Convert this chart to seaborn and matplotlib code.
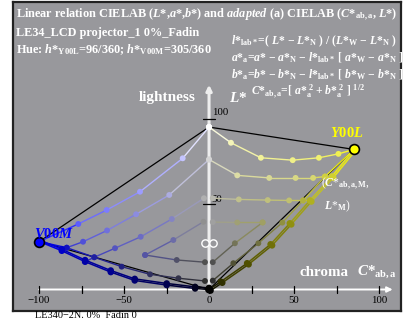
import numpy as np
import pandas as pd
import seaborn as sns
import matplotlib
matplotlib.use("Agg")
import matplotlib.pyplot as plt
from matplotlib import transforms

# ---------------- data (a*_a, L*) ----------------
# yellow side (hue Y00L)
yA_a = [0, 12.9, 30.5, 49.2, 64.6, 76.1, 85.2]
yA_L = [95.2, 86.0, 77.2, 75.8, 77.2, 79.5, 82.1]
yB_a = [0, 16.6, 35.4, 50.9, 61.2, 68.2, 72.2]
yB_L = [76.2, 66.9, 65.4, 65.4, 65.4, 66.2, 66.2]
yC_a = [2.2, 17.5, 34.5, 47.1, 55.3, 59.3]
yC_L = [53.5, 52.8, 52.4, 52.2, 52.2, 52.2]
yD_a = [2.2, 16.6, 31.5]
yD_L = [39.5, 39.3, 39.3]
yE_a = [2.2, 15.2, 31.5]
yE_L = [16.0, 27.1, 39.3]
yF_a = [2.2, 14.3, 29.0, 43.1, 55.3, 68.2, 85.2]
yF_L = [5.2, 15.4, 27.1, 39.2, 52.2, 66.2, 82.1]
yG_a = [0, 6.9, 22.4, 36.2, 47.5, 59.3, 72.2, 85.2]
yG_L = [0, 4.6, 15.4, 26.5, 38.8, 52.2, 66.2, 82.1]

# blue side (hue V00M)
bA_a = [0, -15.5, -40.6, -60.2, -76.9, -99.8]
bA_L = [95.2, 76.9, 57.3, 46.6, 38.4, 28.1]
bB_a = [0, -23.4, -42.9, -60.0, -74.1, -83.7]
bB_L = [76.2, 55.4, 44.1, 34.6, 28.0, 24.5]
bC_a = [-3.0, -21.9, -40.2, -55.3, -67.5, -72.9]
bC_L = [53.5, 41.3, 30.9, 24.2, 18.9, 16.3]
bD_a = [-3.3, -21.0, -37.6]
bD_L = [39.7, 29.0, 20.2]
bE_a = [-2.4, -19.0, -37.6]
bE_L = [16.0, 17.3, 20.2]
bF_a = [-2.4, -18.0, -34.7, -51.4, -67.5, -83.7, -99.8]
bF_L = [5.0, 6.6, 8.9, 13.4, 18.9, 24.5, 28.1]
bG_a = [0, -8.2, -24.9, -43.7, -57.8, -72.9, -86.6, -99.8]
bG_L = [0, 0.6, 2.6, 5.3, 10.2, 16.3, 22.7, 28.1]

# corner points
W_pt = (0, 95.2)
N_pt = (0, 0)
Y00L_pt = (85.2, 82.1)
V00M_pt = (-99.8, 28.1)
LM_a = [-2.4, 2.2]
LM_L = [27.1, 27.1]

x_ticks = [-100, -75, -50, -25, 0, 25, 50, 75, 100]
x_ticklabels = ["\u2212100", "\u221250", "0", "50", "100"]
x_labeled = [-100, -50, 0, 50, 100]

# ---------------- styles ----------------
yA_c = ['#ffffff', '#f4f4b8', '#f2f298', '#f0f088', '#f0f070', '#f0f050', '#ffff00']
yB_c = ['#d4d4d4', '#dcdca4', '#d8d894', '#d8d884', '#d8d870', '#d8d848', '#d8d838']
yC_c = ['#b8b8b0', '#c0c08c', '#c0c07c', '#c0c070', '#c8c848', '#c8c838']
yD_c = ['#a0a0a0', '#a0a074', '#a0a064']
yE_c = ['#505050', '#747458', '#a0a064']
yF_c = ['#303030', '#505034', '#707040', '#909040', '#b0b040', '#d0d040', '#ffff00']
yG_c = ['#000000', '#303000', '#505000', '#707008', '#909010', '#b0b020', '#d0d030', '#ffff00']

bA_c = ['#ffffff', '#c4c4ff', '#9c9cff', '#7c7cff', '#5c5cff', '#0000ff']
bB_c = ['#d4d4d4', '#acace0', '#8c8ce0', '#7070dc', '#5050d8', '#3030d0']
bC_c = ['#b0b0b0', '#8484c4', '#6c6cc4', '#5454c0', '#3c3cb8', '#2020b0']
bD_c = ['#909090', '#6c6ca8', '#5454a4']
bE_c = ['#505050', '#505068', '#5454a4']
bF_c = ['#303030', '#303048', '#303060', '#202080', '#2020a0', '#1010c0', '#0000ff']
bG_c = ['#000000', '#000020', '#000050', '#000070', '#000090', '#0000a8', '#0000c8', '#0000ff']

BG = '#98989c'

sns.set_theme(style="white")
plt.rcParams['font.family'] = ['Liberation Serif', 'DejaVu Serif']
plt.rcParams['mathtext.fontset'] = 'custom'
plt.rcParams['mathtext.rm'] = 'Liberation Serif:bold'
plt.rcParams['mathtext.it'] = 'Liberation Serif:italic:bold'
plt.rcParams['mathtext.bf'] = 'Liberation Serif:bold'

fig = plt.figure(figsize=(4.16, 3.23), dpi=100)
fig.patch.set_facecolor('white')
ax = fig.add_axes([13 / 416, 12 / 323, 388 / 416, 309 / 323])
ax.set_facecolor(BG)
ax.set_xlim(-115.3, 112.9)
ax.set_ylim(-12.6, 168.5)
for s in ax.spines.values():
    s.set_color('#222222')
    s.set_linewidth(1.6)
ax.set_xticks([])
ax.set_yticks([])


def mix(c1, c2):
    r1, g1, b1 = matplotlib.colors.to_rgb(c1)
    r2, g2, b2 = matplotlib.colors.to_rgb(c2)
    return ((r1 + r2) / 2, (g1 + g2) / 2, (b1 + b2) / 2)


def series(a, L, cols, lw=1.0, s=18, trans=None, z=3):
    kw = {}
    if trans is not None:
        kw['transform'] = trans
    for i in range(len(a) - 1):
        sns.lineplot(x=[a[i], a[i + 1]], y=[L[i], L[i + 1]], sort=False,
                     estimator=None, color=mix(cols[i], cols[i + 1]),
                     lw=lw, ax=ax, zorder=z, **kw)
    df = pd.DataFrame({'a': a, 'L': L, 'k': [str(i) for i in range(len(a))]})
    sns.scatterplot(data=df, x='a', y='L', hue='k',
                    palette=dict(zip(df['k'], cols)), legend=False,
                    s=s, edgecolor='none', ax=ax, zorder=z + 1, **kw)


# white axes
ax.annotate('', xy=(108, 0), xytext=(-100, 0),
            arrowprops=dict(arrowstyle='-|>', color='white', lw=1.4,
                            mutation_scale=8, shrinkA=0, shrinkB=0), zorder=1)
ax.annotate('', xy=(0, 120), xytext=(0, -1),
            arrowprops=dict(arrowstyle='-|>', color='#eeeeee', lw=2.2,
                            mutation_scale=8, shrinkA=0, shrinkB=0), zorder=1)
for t in x_ticks:
    ax.plot([t, t], [-2.0, 2.0], color='black', lw=0.9, zorder=2)
for t in [50, 100]:
    ax.plot([-3.5, 3.5], [t, t], color='black', lw=0.9, zorder=2)
for t, lab in zip(x_labeled, x_ticklabels):
    ax.text(t, -6.5, lab, ha='center', va='center', fontsize=7.8, color='black')
ax.text(1.5, 103.5, '100', ha='left', va='center', fontsize=7.8, color='black')
ax.text(1.5, 52.5, '50', ha='left', va='center', fontsize=7.8, color='black')

# outline triangle lines
ax.plot([W_pt[0], Y00L_pt[0]], [W_pt[1], Y00L_pt[1]], color='black', lw=0.9, zorder=2)
ax.plot([N_pt[0], Y00L_pt[0]], [N_pt[1], Y00L_pt[1]], color='black', lw=0.9, zorder=2)
ax.plot([W_pt[0], V00M_pt[0]], [W_pt[1], V00M_pt[1]], color='black', lw=0.9, zorder=2)
ax.plot([N_pt[0], V00M_pt[0]], [N_pt[1], V00M_pt[1]], color='black', lw=0.9, zorder=2)

off = transforms.offset_copy(ax.transData, fig=fig, x=1.5, y=-1.1, units='dots')
offb = transforms.offset_copy(ax.transData, fig=fig, x=0.0, y=1.6, units='dots')

for a_, L_, c_ in [(yA_a, yA_L, yA_c), (yB_a, yB_L, yB_c), (yC_a, yC_L, yC_c),
                   (yD_a, yD_L, yD_c), (yE_a, yE_L, yE_c), (yF_a, yF_L, yF_c),
                   (bA_a, bA_L, bA_c), (bB_a, bB_L, bB_c), (bC_a, bC_L, bC_c),
                   (bD_a, bD_L, bD_c), (bE_a, bE_L, bE_c), (bF_a, bF_L, bF_c)]:
    series(a_, L_, c_)
series(yG_a, yG_L, yG_c, lw=1.1, s=22)
series(yG_a, yG_L, yG_c, lw=1.1, s=22, trans=off)
series(bG_a, bG_L, bG_c, lw=1.1, s=22)
series(bG_a, bG_L, bG_c, lw=1.1, s=22, trans=offb)

# hollow circles at L*_M
sns.scatterplot(x=LM_a, y=LM_L, s=28, facecolor=BG, edgecolor='white',
                linewidth=1.0, ax=ax, zorder=6)
# corner markers
sns.scatterplot(x=[Y00L_pt[0]], y=[Y00L_pt[1]], s=50, color='#ffff00',
                edgecolor='black', linewidth=1.2, ax=ax, zorder=7)
sns.scatterplot(x=[V00M_pt[0]], y=[V00M_pt[1]], s=50, color='#0000ff',
                edgecolor='black', linewidth=1.2, ax=ax, zorder=7)
sns.scatterplot(x=[N_pt[0]], y=[N_pt[1]], s=32, color='black',
                edgecolor='none', ax=ax, zorder=7)
sns.scatterplot(x=[W_pt[0]], y=[W_pt[1]], s=20, color='white',
                edgecolor='none', ax=ax, zorder=7)

# ---------------- texts ----------------
def ftext(x, y, s, **kw):
    fig.text(x / 416, 1 - y / 323, s, **kw)

hdr = dict(color='white', fontsize=8.8, fontweight='bold', va='center', ha='left')
ftext(16, 15, r"Linear relation CIELAB ($L$*,$a$*,$b$*) and $adapted$ (a) CIELAB ($C$*$_{\rm ab,a}$, $L$*)", **hdr)
ftext(16, 33, "LE34_LCD projector_1 0%_Fadin", **hdr)
ftext(16, 50, r"Hue: $h$*$_{\rm Y00L}$=96/360; $h$*$_{\rm V00M}$=305/360", **hdr)

fm = dict(color='white', fontsize=8.4, fontweight='bold', va='center', ha='left')
ftext(231, 41, r"$l$*$_{\rm lab*}$=( $L$* $-$ $L$*$_{\rm N}$ ) / ($L$*$_{\rm W}$ $-$ $L$*$_{\rm N}$ )", **fm)
ftext(231, 58, r"$a$*$_{\rm a}$=$a$* $-$ $a$*$_{\rm N}$ $-$ $l$*$_{\rm lab*}$ [ $a$*$_{\rm W}$ $-$ $a$*$_{\rm N}$ ]", **fm)
ftext(231, 75, r"$b$*$_{\rm a}$=$b$* $-$ $b$*$_{\rm N}$ $-$ $l$*$_{\rm lab*}$ [ $b$*$_{\rm W}$ $-$ $b$*$_{\rm N}$ ]", **fm)
ftext(251, 92, r"$C$*$_{\rm ab,a}$=[ $a$*$_{\rm a}^{\ 2}$ + $b$*$_{\rm a}^{\ 2}$ ] $^{1/2}$", **fm)

ftext(139, 97, "lightness", color='white', fontsize=11, fontweight='bold', va='center')
ftext(229, 98, r"$L$*", color='white', fontsize=11, fontweight='bold', va='center')
ftext(299, 273, "chroma", color='white', fontsize=10.8, fontweight='bold', va='center')
ftext(357, 272, r"$C$*$_{\rm ab,a}$", color='white', fontsize=10.8, fontweight='bold', va='center')
ftext(330, 133, r"$Y00L$", color='#ffff00', fontsize=10.5, va='center')
ftext(34, 234, r"$V00M$", color='#0000ff', fontsize=10.5, va='center')
ftext(321, 184, r"($C$*$_{\rm ab,a,M}$,", color='white', fontsize=8.4, va='center')
ftext(324, 206, r"$L$*$_{\rm M}$)", color='white', fontsize=8.4, va='center')

ftext(35, 316, "LE340\u22122N. 0%  Fadin 0", color='black', fontsize=7.4, va='center')

fig.savefig('out.png', dpi=100, facecolor='white')
